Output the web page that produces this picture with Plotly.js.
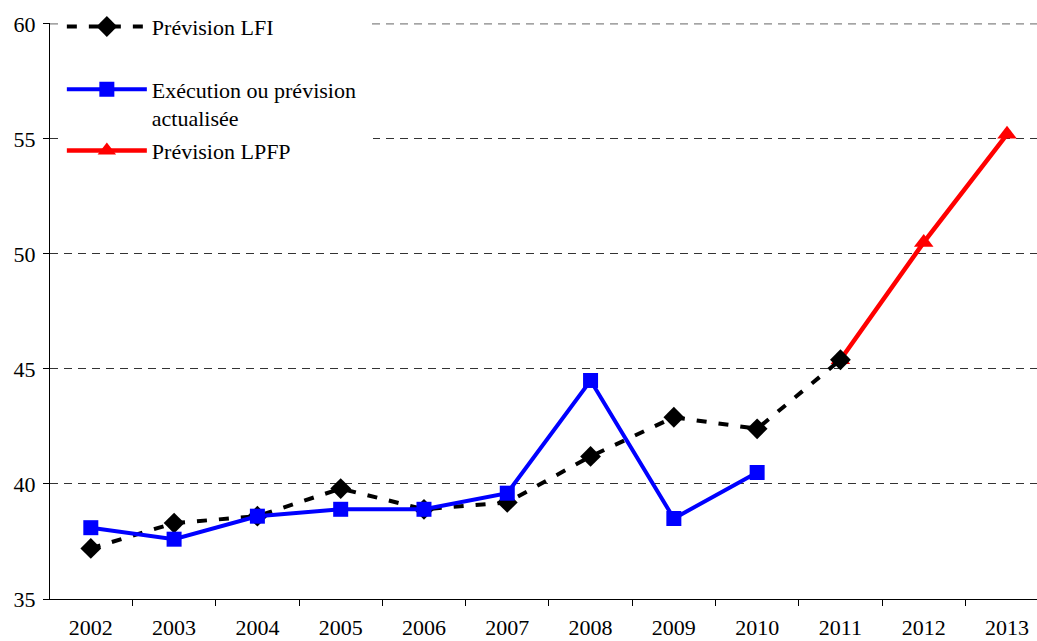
<!DOCTYPE html>
<html>
<head>
<meta charset="utf-8">
<script src="https://cdn.plot.ly/plotly-3.0.1.min.js"></script>
<style>html,body{margin:0;padding:0;background:#fff;}#chart{width:1037px;height:641px;}</style>
</head>
<body>
<div id="chart"></div>
<script>
const years = ["2002","2003","2004","2005","2006","2007","2008","2009","2010","2011","2012","2013"];
const lfiYears = ["2002","2003","2004","2005","2006","2007","2008","2009","2010","2011"];
const lfiValues = [37.2, 38.3, 38.6, 39.8, 38.9, 39.2, 41.2, 42.9, 42.4, 45.4];
const execYears = ["2002","2003","2004","2005","2006","2007","2008","2009","2010"];
const execValues = [38.1, 37.6, 38.6, 38.9, 38.9, 39.6, 44.5, 38.5, 40.5];
const lpfpYears = ["2011","2012","2013"];
const lpfpValues = [45.4, 50.5, 55.2];

const serif = "'Liberation Serif', 'Times New Roman', serif";
const pad = "\u00a0".repeat(16);

const traces = [
  {
    x: lpfpYears, y: lpfpValues, type: "scatter", mode: "lines+markers",
    name: "Prévision LPFP", legend: "legend2", legendrank: 2, legendgroup: "c",
    line: {color: "#ff0000", width: 4.5},
    marker: {symbol: "triangle-up", size: 17, color: "#ff0000"}
  },
  {
    x: lfiYears, y: lfiValues, type: "scatter", mode: "lines+markers",
    name: "Prévision LFI" + pad, legend: "legend", legendrank: 1, legendgroup: "a",
    line: {color: "#000000", width: 4, dash: "10px,12px"},
    marker: {symbol: "diamond", size: 16, color: "#000000"}
  },
  {
    x: execYears, y: execValues, type: "scatter", mode: "lines+markers",
    name: "Exécution ou prévision\u00a0\u00a0<br>actualisée", legend: "legend2", legendrank: 1, legendgroup: "b",
    line: {color: "#0000ff", width: 4},
    marker: {symbol: "square", size: 15, color: "#0000ff"}
  }
];

const legendCommon = {
  xanchor: "left", yanchor: "top",
  bgcolor: "#fff", borderwidth: 0,
  font: {family: serif, size: 22, color: "#000"},
  traceorder: "grouped", valign: "top", itemwidth: 80
};

const layout = {
  width: 1037, height: 641,
  margin: {l: 50, r: 0, t: 23, b: 42},
  paper_bgcolor: "#fff", plot_bgcolor: "#fff",
  font: {family: serif, size: 22, color: "#000"},
  showlegend: true,
  legend: Object.assign({}, legendCommon, {x: 0.012, y: 1.030, tracegroupgap: 0}),
  legend2: Object.assign({}, legendCommon, {x: 0.012, y: 0.921, tracegroupgap: 1}),
  xaxis: {
    type: "category", categoryorder: "array", categoryarray: years,
    range: [-0.49, 11.36],
    showline: true, linecolor: "#000", linewidth: 1,
    ticks: "outside", ticklen: 6, tickcolor: "#000", tickson: "boundaries",
    ticklabelstandoff: 9,
    showgrid: false, zeroline: false,
    tickfont: {family: serif, size: 22, color: "#000"}
  },
  yaxis: {
    range: [35, 60.04], tickvals: [35, 40, 45, 50, 55, 60],
    showline: true, linecolor: "#000", linewidth: 1,
    ticks: "outside", ticklen: 6, tickcolor: "#000",
    ticklabelstandoff: 3,
    showgrid: true, gridcolor: "#333", gridwidth: 1, griddash: "8px,6px",
    zeroline: false,
    tickfont: {family: serif, size: 22, color: "#000"}
  },
  shapes: [
    {type: "line", xref: "paper", yref: "y", x0: 0, x1: 1, y0: 60, y1: 60,
     line: {color: "#666", width: 1, dash: "8px,6px"}, layer: "below"}
  ]
};

Plotly.newPlot("chart", traces, layout, {displayModeBar: false, staticPlot: true});
</script>
</body>
</html>
